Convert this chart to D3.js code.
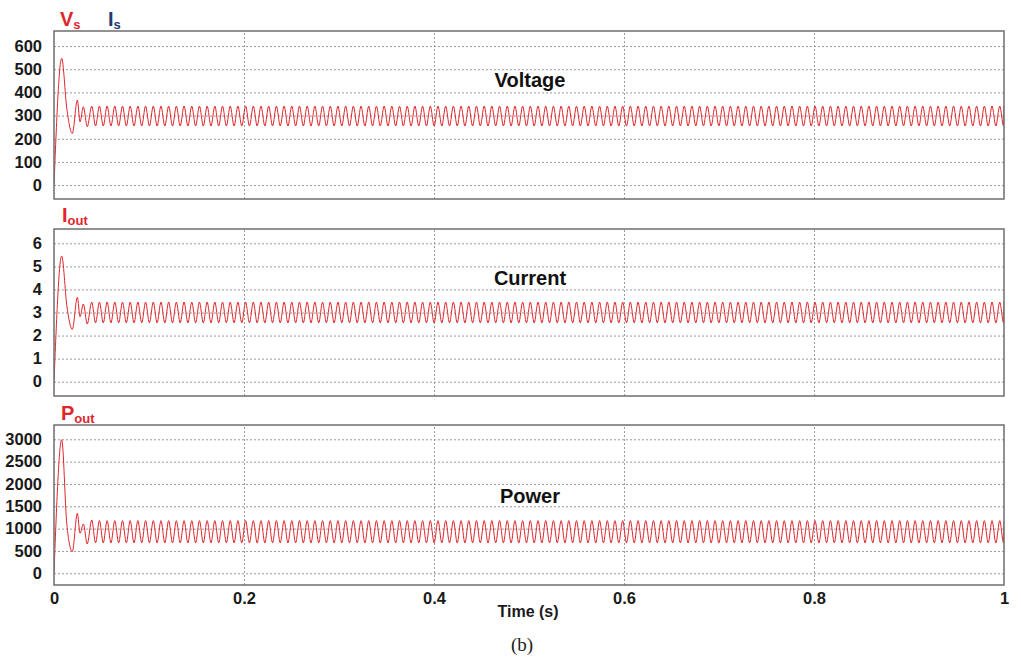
<!DOCTYPE html>
<html>
<head>
<meta charset="utf-8">
<script src="https://cdn.jsdelivr.net/npm/d3@7"></script>
<style>
  body { margin: 0; background: white; }
</style>
</head>
<body>
<div id="container"></div>
<script>
let w = 1021;
let h = 661;

// time axis
let timeTicks = [0, 0.2, 0.4, 0.6, 0.8, 1];

// start-up transient
let startTimes = [0, 0.0081, 0.0135, 0.0193, 0.0246, 0.0274, 0.0309, 0.035, 0.0397];
let vsStart = [0, 547, 330, 223, 367, 273, 338, 252, 341];
let ioutStart = [0, 5.45, 3.3, 2.27, 3.66, 2.82, 3.37, 2.5, 3.45];
let poutStart = [0, 2990, 1100, 485, 1343, 896, 1104, 657, 1194];

// steady ripple after start-up: [trough, peak], and one cycle (s)
let ripplePeriod = 0.0081;
let vsRipple = [255, 341];
let ioutRipple = [2.55, 3.45];
let poutRipple = [680, 1180];

// y tick labels
let vsTicks = [0, 100, 200, 300, 400, 500, 600];
let ioutTicks = [0, 1, 2, 3, 4, 5, 6];
let poutTicks = [0, 500, 1000, 1500, 2000, 2500, 3000];

let viz = d3.select("#container")
  .append("svg")
    .attr("width", w)
    .attr("height", h)
    .style("background-color", "white")
    .style("font-family", "'Liberation Sans', Arial, sans-serif")
;

let left = 54;
let right = 1004;

let x = d3.scaleLinear().domain([0, 1]).range([left, right]);

let panels = [
  {top: 31, bottom: 199, domain: [-60, 665], ticks: vsTicks, start: vsStart, ripple: vsRipple, title: "Voltage", titleY: 87},
  {top: 229, bottom: 396, domain: [-0.62, 6.62], ticks: ioutTicks, start: ioutStart, ripple: ioutRipple, title: "Current", titleY: 285},
  {top: 425, bottom: 585, domain: [-262, 3320], ticks: poutTicks, start: poutStart, ripple: poutRipple, title: "Power", titleY: 503}
];

// transient points, then the ripple alternating trough/peak every half cycle
function buildSeries(start, ripple){
  let pts = startTimes.map((t, i) => [t, start[i]]);
  let t = startTimes[startTimes.length - 1];
  let k = 0;
  while (t < 1) {
    t = t + ripplePeriod / 2;
    pts.push([Math.min(t, 1), ripple[k % 2]]);
    k++;
  }
  return pts;
}

function drawPanel(p, i){
  let y = d3.scaleLinear().domain(p.domain).range([p.bottom, p.top]);
  let g = viz.append("g").attr("class", "panel");

  // horizontal dotted grid
  g.append("g")
    .attr("transform", "translate(" + left + ",0)")
    .call(d3.axisLeft(y).tickValues(p.ticks).tickSize(-(right - left)).tickFormat(""))
    .call(s => s.select(".domain").remove())
    .selectAll("line")
      .style("stroke", "#9a9a9a")
      .style("stroke-dasharray", "2,2")
  ;

  // vertical dotted grid
  g.append("g")
    .attr("transform", "translate(0," + p.bottom + ")")
    .call(d3.axisBottom(x).tickValues(timeTicks.slice(1, -1)).tickSize(-(p.bottom - p.top)).tickFormat(""))
    .call(s => s.select(".domain").remove())
    .selectAll("line")
      .style("stroke", "#9a9a9a")
      .style("stroke-dasharray", "2,2")
  ;

  // y tick labels
  g.append("g")
    .attr("transform", "translate(" + left + ",0)")
    .call(d3.axisLeft(y).tickValues(p.ticks).tickFormat(d3.format("d")).tickSize(0).tickPadding(12))
    .call(s => s.select(".domain").remove())
    .selectAll("text")
      .style("font-family", "'Liberation Sans', Arial, sans-serif")
      .style("font-size", "16.5px")
      .style("font-weight", "bold")
      .style("fill", "#1a1a1a")
  ;

  let clipId = "clip" + i;
  g.append("clipPath")
    .attr("id", clipId)
    .append("rect")
      .attr("x", left)
      .attr("y", p.top)
      .attr("width", right - left)
      .attr("height", p.bottom - p.top)
  ;

  let line = d3.line()
    .x(d => x(d[0]))
    .y(d => y(d[1]))
    .curve(d3.curveMonotoneX)
  ;

  g.append("path")
    .attr("d", line(buildSeries(p.start, p.ripple)))
    .attr("clip-path", "url(#" + clipId + ")")
    .attr("fill", "none")
    .style("stroke", "#e0262b")
    .style("stroke-width", 1)
  ;

  // frame
  g.append("rect")
    .attr("x", left)
    .attr("y", p.top)
    .attr("width", right - left)
    .attr("height", p.bottom - p.top)
    .attr("fill", "none")
    .style("stroke", "#6e6e6e")
    .style("stroke-width", 1.5)
  ;

  g.append("text")
    .text(p.title)
    .attr("x", 530)
    .attr("y", p.titleY)
    .attr("text-anchor", "middle")
    .style("font-size", "20px")
    .style("font-weight", "bold")
    .style("fill", "#111")
  ;
}

panels.forEach(drawPanel);

// x axis labels under the bottom panel
let xAxis = viz.append("g")
  .attr("transform", "translate(0," + panels[2].bottom + ")")
  .call(d3.axisBottom(x).tickValues(timeTicks).tickFormat(d => d).tickSize(0).tickPadding(7))
  .call(s => s.select(".domain").remove())
;
xAxis.selectAll("text")
  .style("font-family", "'Liberation Sans', Arial, sans-serif")
  .style("font-size", "16.5px")
  .style("font-weight", "bold")
  .style("fill", "#1a1a1a")
;

viz.append("text")
  .text("Time (s)")
  .attr("x", 528)
  .attr("y", 617)
  .attr("text-anchor", "middle")
  .style("font-size", "16px")
  .style("font-weight", "bold")
  .style("fill", "#1a1a1a")
;

viz.append("text")
  .text("(b)")
  .attr("x", 522)
  .attr("y", 651)
  .attr("text-anchor", "middle")
  .style("font-family", "'Liberation Serif', 'DejaVu Serif', serif")
  .style("font-size", "19px")
  .style("fill", "#222")
;

// signal labels with subscripts
function label(main, sub, xPos, yPos, color){
  let t = viz.append("text")
    .attr("x", xPos)
    .attr("y", yPos)
    .style("font-weight", "bold")
    .style("fill", color)
  ;
  t.append("tspan").text(main).style("font-size", "20px");
  t.append("tspan").text(sub).attr("dy", 3).style("font-size", "13px");
}

label("V", "s", 60, 26, "#e0262b");
label("I", "s", 108, 26, "#1f3a73");
label("I", "out", 62, 222, "#e0262b");
label("P", "out", 61, 420, "#e0262b");
</script>
</body>
</html>
